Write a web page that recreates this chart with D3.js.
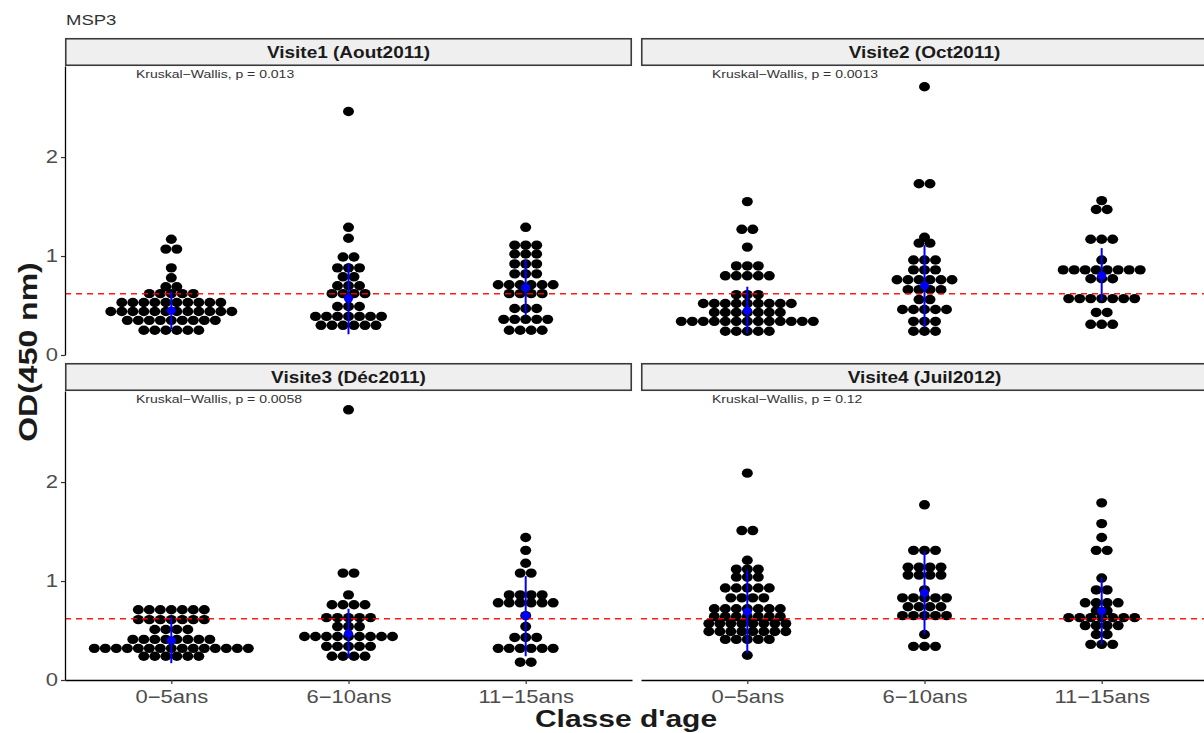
<html>
<head>
<meta charset="utf-8">
<title>MSP3 dotplot</title>
<script src="https://d3js.org/d3.v7.min.js"></script>
<style>
body{margin:0;background:#fff;}
text{font-family:"Liberation Sans",Arial,Helvetica,sans-serif;}
</style>
</head>
<body>
<svg width="1204" height="733"></svg>
<script>
// ---- data ----
var visits = ["Visite1 (Aout2011)", "Visite2 (Oct2011)", "Visite3 (Déc2011)", "Visite4 (Juil2012)"];
var ageClasses = ["0−5ans", "6−10ans", "11−15ans"];
var pValues = ["0.013", "0.0013", "0.0058", "0.12"];
var yTicks = [0, 1, 2];
var cutoff = 0.62;

// dot rows for each age class: [OD value, number of dots in the row]
var dotsV1 = [
  [[1.17,1],[1.07,2],[0.88,1],[0.78,1],[0.69,2],[0.62,5],[0.53,10],[0.44,12],[0.35,9],[0.25,6]],
  [[2.46,1],[1.29,1],[1.18,1],[0.99,2],[0.88,3],[0.79,2],[0.70,3],[0.62,4],[0.49,3],[0.39,7],[0.30,6]],
  [[1.29,1],[1.11,3],[1.02,3],[0.92,3],[0.82,3],[0.71,6],[0.62,4],[0.47,3],[0.36,5],[0.25,4]]
];
var dotsV2 = [
  [[1.55,1],[1.27,2],[1.09,1],[0.90,3],[0.80,5],[0.61,3],[0.52,9],[0.43,7],[0.34,13],[0.24,5]],
  [[2.71,1],[1.73,2],[1.19,1],[1.13,2],[0.96,3],[0.86,3],[0.76,6],[0.66,4],[0.56,2],[0.46,5],[0.34,3],[0.24,3]],
  [[1.56,1],[1.47,2],[1.17,3],[0.96,1],[0.86,8],[0.77,3],[0.57,7],[0.43,2],[0.31,3]]
];
var dotsV3 = [
  [[0.71,7],[0.61,7],[0.51,4],[0.41,8],[0.32,15],[0.24,6]],
  [[2.73,1],[1.08,2],[0.86,1],[0.76,4],[0.63,5],[0.54,3],[0.44,9],[0.34,5],[0.24,4]],
  [[1.44,1],[1.31,1],[1.18,1],[1.08,2],[0.86,4],[0.78,6],[0.65,1],[0.54,1],[0.43,3],[0.32,6],[0.18,2]]
];
var dotsV4 = [
  [[2.09,1],[1.51,2],[1.21,1],[1.12,3],[1.04,3],[0.93,5],[0.83,4],[0.72,7],[0.64,7],[0.57,8],[0.49,8],[0.41,5],[0.25,1]],
  [[1.77,1],[1.31,3],[1.14,4],[1.06,4],[0.91,1],[0.83,5],[0.74,4],[0.65,5],[0.46,1],[0.34,3]],
  [[1.79,1],[1.58,1],[1.44,1],[1.31,2],[1.03,1],[0.91,2],[0.78,4],[0.70,2],[0.63,7],[0.55,4],[0.46,2],[0.36,3]]
];

// blue summaries per age class: [mean, low, high]
var summaryV1 = [[0.45,0.26,0.64],[0.57,0.21,0.93],[0.68,0.40,0.96]];
var summaryV2 = [[0.45,0.22,0.69],[0.70,0.28,1.11],[0.80,0.55,1.08]];
var summaryV3 = [[0.40,0.17,0.63],[0.47,0.22,0.72],[0.65,0.24,1.05]];
var summaryV4 = [[0.69,0.27,1.11],[0.88,0.46,1.30],[0.70,0.36,1.03]];

var allDots = [dotsV1, dotsV2, dotsV3, dotsV4];
var allSummary = [summaryV1, summaryV2, summaryV3, summaryV4];

// ---- layout ----
var svg = d3.select("svg"),
    W = +svg.attr("width"), H = +svg.attr("height"),
    margin = {top: 38, right: -4, bottom: 53, left: 65},
    colGap = 9, rowGap = 8, stripH = 28,
    panelW = (W - margin.left - margin.right - colGap) / 2,
    panelH = (H - margin.bottom - margin.top - 2 * stripH - rowGap) / 2,
    sq = 0.82,          // the picture is a bit squashed vertically
    dotW = 11, binwidth = 0.095;

svg.append("rect").attr("width", W).attr("height", H).attr("fill", "#fff");

function label(g, x, y, s, size, opts) {
  opts = opts || {};
  return g.append("text")
    .attr("transform", `translate(${x},${y}) scale(1,${sq})`)
    .attr("text-anchor", opts.anchor || "start")
    .style("font-size", size + "px")
    .style("font-weight", opts.bold ? "bold" : "normal")
    .style("fill", opts.fill || "#1a1a1a")
    .text(s);
}

label(svg, 66, 25, "MSP3", 18.5, {fill: "#333"});

visits.forEach(function(v, i) {
  var col = i % 2, row = Math.floor(i / 2);
  var left = margin.left + col * (panelW + colGap);
  var stripTop = margin.top + row * (stripH + panelH + rowGap);
  var top = stripTop + stripH, bottom = top + panelH;

  var x = d3.scalePoint().domain(ageClasses).range([left, left + panelW]).padding(0.6);
  var y = d3.scaleLinear().domain([0, 2.92]).range([bottom, top]);
  var dotH = y(0) - y(binwidth);

  var g = svg.append("g").attr("class", "panel");

  // strip
  g.append("rect")
    .attr("x", left + 0.75).attr("y", stripTop + 0.75)
    .attr("width", panelW - 1.5).attr("height", stripH - 1.5)
    .attr("fill", "#efefef").attr("stroke", "#3a3a3a").attr("stroke-width", 1.6);
  label(g, left + panelW / 2, stripTop + stripH / 2 + 5.6, v, 19, {anchor: "middle", bold: true});

  // dots, stacked and centred on each age class
  var dots = [];
  allDots[i].forEach(function(rows, k) {
    rows.forEach(function(r) {
      for (var j = 0; j < r[1]; j++) {
        dots.push({age: ageClasses[k], value: r[0], off: j - (r[1] - 1) / 2});
      }
    });
  });
  g.selectAll(".dot")
    .data(dots)
    .enter()
    .append("ellipse")
      .attr("class", "dot")
      .attr("cx", d => x(d.age) + d.off * dotW)
      .attr("cy", d => y(d.value))
      .attr("rx", dotW / 2)
      .attr("ry", dotH / 2)
      .attr("fill", "#000");

  // cutoff line
  g.append("line")
    .attr("x1", left).attr("x2", left + panelW)
    .attr("y1", y(cutoff)).attr("y2", y(cutoff))
    .attr("stroke", "#ff0000").attr("stroke-width", 1.5)
    .attr("stroke-dasharray", "6,5").attr("opacity", 0.9);

  // mean +/- sd
  var summ = allSummary[i].map((s, k) => ({age: ageClasses[k], mean: s[0], lo: s[1], hi: s[2]}));
  g.selectAll(".range")
    .data(summ)
    .enter()
    .append("line")
      .attr("class", "range")
      .attr("x1", d => x(d.age)).attr("x2", d => x(d.age))
      .attr("y1", d => y(d.lo)).attr("y2", d => y(d.hi))
      .attr("stroke", "#0000ff").attr("stroke-width", 2);
  g.selectAll(".mean")
    .data(summ)
    .enter()
    .append("ellipse")
      .attr("class", "mean")
      .attr("cx", d => x(d.age)).attr("cy", d => y(d.mean))
      .attr("rx", 4.6).attr("ry", 4)
      .attr("fill", "#0000ff");

  // test annotation
  label(g, left + 71, top + 11.5, "Kruskal−Wallis, p = " + pValues[i], 14, {fill: "#333"});

  // axes only on outer panels
  if (col === 0) {
    var ya = g.append("g")
      .attr("transform", `translate(${left},0)`)
      .call(d3.axisLeft(y).tickValues(yTicks).tickFormat(d3.format("d"))
        .tickSize(4).tickSizeOuter(0).tickPadding(3));
    ya.select(".domain").attr("stroke", "#000").attr("stroke-width", 1.3);
    ya.selectAll(".tick line").attr("stroke", "#333").attr("stroke-width", 1.2);
    ya.selectAll("text")
      .attr("transform", `scale(1,${sq})`)
      .style("font-size", "22px").style("font-family", null)
      .attr("fill", "#4d4d4d");
  }
  if (row === 1) {
    var xa = g.append("g")
      .attr("transform", `translate(0,${bottom})`)
      .call(d3.axisBottom(x).tickSize(4).tickSizeOuter(0));
    xa.select(".domain").attr("stroke", "#000").attr("stroke-width", 1.3);
    xa.selectAll(".tick line").attr("stroke", "#333").attr("stroke-width", 1.2);
    xa.selectAll("text")
      .attr("y", 0).attr("dy", null)
      .attr("transform", `translate(0,23) scale(1,${sq})`)
      .style("font-size", "22px").style("font-family", null)
      .attr("fill", "#4d4d4d");
  }
});

// axis titles
svg.append("text")
  .attr("transform", "translate(37,352) rotate(-90) scale(1,0.8)")
  .attr("text-anchor", "middle")
  .style("font-size", "32px").style("font-weight", "bold").style("fill", "#1a1a1a")
  .text("OD(450 nm)");
label(svg, 626, 727, "Classe d'age", 30, {anchor: "middle", bold: true});
</script>
</body>
</html>
